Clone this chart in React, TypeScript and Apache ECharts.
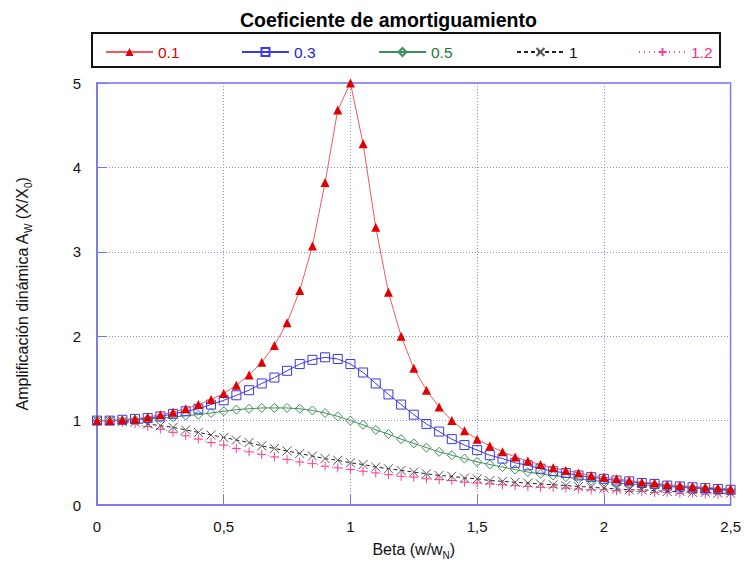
import React, { useEffect, useRef } from "react";
import * as echarts from "echarts";

const betas = [0, 0.05, 0.1, 0.15, 0.2, 0.25, 0.3, 0.35, 0.4, 0.45, 0.5, 0.55, 0.6, 0.65, 0.7, 0.75, 0.8, 0.85, 0.9, 0.95, 1.0, 1.05, 1.1, 1.15, 1.2, 1.25, 1.3, 1.35, 1.4, 1.45, 1.5, 1.55, 1.6, 1.65, 1.7, 1.75, 1.8, 1.85, 1.9, 1.95, 2.0, 2.05, 2.1, 2.15, 2.2, 2.25, 2.3, 2.35, 2.4, 2.45, 2.5];

const z01 = [1.0, 1.0, 1.01, 1.02, 1.04, 1.07, 1.1, 1.14, 1.19, 1.25, 1.32, 1.42, 1.54, 1.69, 1.89, 2.16, 2.54, 3.07, 3.82, 4.68, 5.0, 4.28, 3.29, 2.52, 2.0, 1.62, 1.36, 1.16, 1.0, 0.88, 0.78, 0.7, 0.63, 0.57, 0.52, 0.48, 0.44, 0.41, 0.38, 0.35, 0.33, 0.31, 0.29, 0.27, 0.26, 0.24, 0.23, 0.22, 0.21, 0.2, 0.19];
const z03 = [1.0, 1.0, 1.01, 1.02, 1.03, 1.05, 1.08, 1.11, 1.14, 1.19, 1.24, 1.3, 1.36, 1.44, 1.51, 1.59, 1.67, 1.72, 1.75, 1.73, 1.67, 1.57, 1.44, 1.31, 1.19, 1.07, 0.96, 0.87, 0.78, 0.71, 0.65, 0.59, 0.55, 0.5, 0.47, 0.43, 0.4, 0.38, 0.35, 0.33, 0.31, 0.29, 0.28, 0.26, 0.25, 0.23, 0.22, 0.21, 0.2, 0.19, 0.18];
const z05 = [1.0, 1.0, 1.0, 1.01, 1.02, 1.03, 1.04, 1.06, 1.07, 1.09, 1.11, 1.13, 1.14, 1.15, 1.15, 1.15, 1.14, 1.12, 1.09, 1.05, 1.0, 0.95, 0.89, 0.84, 0.78, 0.73, 0.68, 0.63, 0.59, 0.55, 0.51, 0.48, 0.45, 0.42, 0.39, 0.37, 0.35, 0.33, 0.31, 0.29, 0.28, 0.26, 0.25, 0.24, 0.23, 0.22, 0.21, 0.2, 0.19, 0.18, 0.17];
const z1 = [1.0, 1.0, 0.99, 0.98, 0.96, 0.94, 0.92, 0.89, 0.86, 0.83, 0.8, 0.77, 0.74, 0.7, 0.67, 0.64, 0.61, 0.58, 0.55, 0.53, 0.5, 0.48, 0.45, 0.43, 0.41, 0.39, 0.37, 0.35, 0.34, 0.32, 0.31, 0.29, 0.28, 0.27, 0.26, 0.25, 0.24, 0.23, 0.22, 0.21, 0.2, 0.19, 0.18, 0.18, 0.17, 0.16, 0.16, 0.15, 0.15, 0.14, 0.14];
const z12 = [1.0, 1.0, 0.98, 0.96, 0.93, 0.9, 0.86, 0.82, 0.78, 0.74, 0.71, 0.67, 0.63, 0.6, 0.57, 0.54, 0.51, 0.49, 0.46, 0.44, 0.42, 0.4, 0.38, 0.36, 0.34, 0.33, 0.31, 0.3, 0.29, 0.27, 0.26, 0.25, 0.24, 0.23, 0.22, 0.21, 0.21, 0.2, 0.19, 0.18, 0.18, 0.17, 0.16, 0.16, 0.15, 0.15, 0.14, 0.14, 0.13, 0.13, 0.13];

const seriesNames = ["0.1", "0.3", "0.5", "1", "1.2"];
const xTicks = [0, 0.5, 1, 1.5, 2, 2.5];

const pairs = (ys: number[]) => betas.map((b, i) => [b, ys[i]]);

const FONT = "Liberation Sans, Arial, sans-serif";
const FRAME = "#7474ee";

export default function App() {
  const ref = useRef<HTMLDivElement>(null);
  useEffect(() => {
    if (!ref.current) return;
    const chart = echarts.init(ref.current, undefined, { renderer: "svg" });
    const legendLeft = [105, 241, 378, 516, 638];
    const legendTextColors = ["#e00000", "#2020dd", "#1a7a3a", "#111111", "#ff2a8a"];
    const nameRich = {
      n: { fontSize: 16, color: "#111", fontFamily: FONT, lineHeight: 22, verticalAlign: "middle" },
      s: { fontSize: 10, color: "#111", fontFamily: FONT, lineHeight: 22, verticalAlign: "bottom" },
    };
    chart.setOption({
      animation: false,
      backgroundColor: "#ffffff",
      textStyle: { fontFamily: FONT },
      title: {
        text: "Coeficiente de amortiguamiento",
        left: 235,
        top: 5,
        textStyle: { fontSize: 19.5, fontWeight: "bold", color: "#000", fontFamily: FONT },
      },
      graphic: [
        {
          type: "rect",
          shape: { x: 92, y: 33, width: 628, height: 34 },
          style: { fill: "none", stroke: "#111", lineWidth: 2 },
          silent: true,
        },
      ],
      legend: seriesNames.map((n, i) => ({
        data: [n],
        left: legendLeft[i],
        top: 44,
        padding: 0,
        itemWidth: 47,
        itemHeight: 10,
        textStyle: { color: legendTextColors[i], fontSize: 15.5, fontFamily: FONT },
        selectedMode: false,
      })),
      grid: {
        left: 97,
        right: 11,
        top: 83,
        bottom: 60,
        show: true,
        borderColor: FRAME,
        borderWidth: 1.5,
      },
      xAxis: {
        type: "value",
        min: 0,
        max: 2.5,
        interval: 0.5,
        name: "{n|Beta (w/w}{s|N}{n|)}",
        nameLocation: "middle",
        nameGap: 33,
        nameTextStyle: { rich: nameRich },
        axisLine: { show: true, lineStyle: { color: FRAME, width: 1.5 } },
        axisTick: { show: true, inside: true, length: 10, lineStyle: { color: FRAME } },
        axisLabel: {
          color: "#111",
          fontSize: 15,
          fontFamily: FONT,
          margin: 14,
          customValues: xTicks,
          formatter: (v: number) => String(v).replace(".", ","),
        },
        splitLine: { show: true, lineStyle: { color: "#8c8ce6", type: [1, 2], width: 1 } },
      },
      yAxis: {
        type: "value",
        min: 0,
        max: 5,
        interval: 1,
        name: "{n|Amplificación dinámica A}{s|W}{n| (X/X}{s|0}{n|)}",
        nameLocation: "middle",
        nameRotate: 90,
        nameGap: 64,
        nameTextStyle: { rich: nameRich },
        axisLine: { show: true, lineStyle: { color: FRAME, width: 1.5 } },
        axisTick: { show: true, inside: true, length: 10, lineStyle: { color: FRAME } },
        axisLabel: { color: "#111", fontSize: 15, fontFamily: FONT, margin: 16 },
        splitLine: { show: true, lineStyle: { color: "#8c8ce6", type: [1, 2], width: 1 } },
      },
      series: [
        {
          name: "0.1",
          type: "line",
          data: pairs(z01),
          symbol: "triangle",
          symbolSize: 9,
          itemStyle: { color: "#e00000" },
          lineStyle: { color: "#f25a5a", width: 1 },
          z: 6,
        },
        {
          name: "0.3",
          type: "line",
          data: pairs(z03),
          symbol: "rect",
          symbolSize: 9,
          itemStyle: { color: "rgba(0,0,0,0)", borderColor: "#3a3ae0", borderWidth: 1 },
          lineStyle: { color: "#3a3ae0", width: 1 },
          z: 5,
        },
        {
          name: "0.5",
          type: "line",
          data: pairs(z05),
          symbol: "diamond",
          symbolSize: 9,
          itemStyle: { color: "rgba(0,0,0,0)", borderColor: "#3f8f5a", borderWidth: 1 },
          lineStyle: { color: "#3f8f5a", width: 1 },
          z: 4,
        },
        {
          name: "1",
          type: "line",
          data: pairs(z1),
          symbol: "path://M0,0L10,10M10,0L0,10",
          symbolSize: 9,
          itemStyle: { color: "rgba(0,0,0,0)", borderColor: "#555555", borderWidth: 1 },
          lineStyle: { color: "#222222", width: 1, type: [4, 3] },
          z: 3,
        },
        {
          name: "1.2",
          type: "line",
          data: pairs(z12),
          symbol: "path://M5,0L5,10M0,5L10,5",
          symbolSize: 9,
          itemStyle: { color: "rgba(0,0,0,0)", borderColor: "#ff3f95", borderWidth: 1 },
          lineStyle: { color: "#ff3f95", width: 1, type: [1, 4] },
          z: 2,
        },
      ],
    });
    return () => chart.dispose();
  }, []);
  return (
    <div
      ref={ref}
      style={{ position: "fixed", left: 0, top: 0, width: 744, height: 565 }}
    />
  );
}
